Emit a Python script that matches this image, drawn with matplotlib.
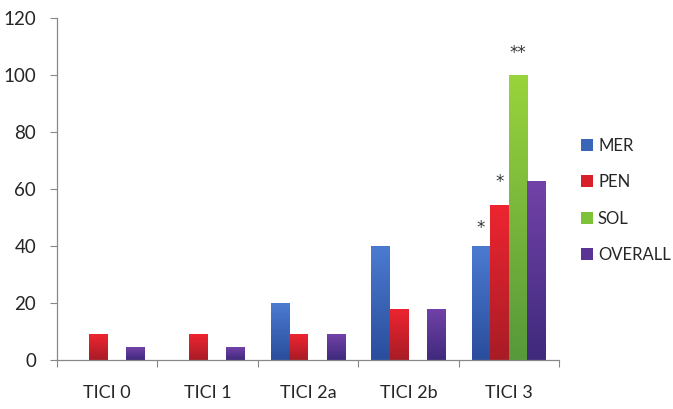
import numpy as np
import matplotlib.pyplot as plt
from matplotlib.colors import LinearSegmentedColormap
from matplotlib.patches import Patch

categories = ["TICI 0", "TICI 1", "TICI 2a", "TICI 2b", "TICI 3"]
series = ["MER", "PEN", "SOL", "OVERALL"]
mer = [0, 0, 20, 40, 40]
pen = [9, 9, 9, 18, 54.5]
sol = [0, 0, 0, 0, 100]
overall = [4.5, 4.5, 9, 18, 63]
values = [mer, pen, sol, overall]

# significance marks above TICI 3 bars (series index, height, text)
marks = [(0, 46.5, "*"), (1, 62.5, "*"), (2, 108, "**")]

# gradient colours, top -> bottom
grads = [("#4b7bd0", "#2a4d9c"),
         ("#ee2530", "#a81c26"),
         ("#99d43c", "#57983a"),
         ("#7242a8", "#3f2a7c")]
solid = ["#3a66b8", "#d8202a", "#7ec23a", "#5a3494"]

plt.rcParams['font.family'] = ['Lato', 'DejaVu Sans']

fig = plt.figure(figsize=(6.73, 4.09), dpi=100)
ax = fig.add_axes([57 / 673, 49 / 409, (559 - 57) / 673, (360 - 18.4) / 409])

x = np.arange(len(categories))
w = 0.185
grad = np.linspace(1, 0, 256).reshape(-1, 1)

for i, (vals, (ctop, cbot)) in enumerate(zip(values, grads)):
    cmap = LinearSegmentedColormap.from_list("g%d" % i, [cbot, ctop])
    bars = ax.bar(x + (i - 1.5) * w, vals, width=w, color="none", edgecolor="none")
    for b in bars:
        h = b.get_height()
        if h <= 0:
            continue
        x0 = b.get_x()
        im = ax.imshow(grad, cmap=cmap, aspect="auto",
                       extent=[x0, x0 + w, 0, h], zorder=2, interpolation="bicubic")
        im.set_clip_path(b)

for i, h, t in marks:
    ax.text(x[4] + (i - 1.5) * w, h, t, ha="center", va="center",
            fontsize=12, color="#333333", family="DejaVu Sans")

ax.set_xlim(-0.5, len(categories) - 0.5)
ax.set_ylim(0, 120)
ax.set_yticks(range(0, 121, 20))

ax.set_xticks(np.arange(-0.5, len(categories), 1.0))
ax.set_xticklabels([])
ax.set_xticks(x, minor=True)
ax.set_xticklabels(categories, minor=True)
ax.tick_params(axis="x", which="major", length=5, color="#888888", direction="out")
ax.tick_params(axis="x", which="minor", length=0, pad=18, labelsize=13, labelcolor="#262626")
ax.tick_params(axis="y", length=5, color="#888888", labelsize=13.5, labelcolor="#262626", pad=10)

for s in ["top", "right"]:
    ax.spines[s].set_visible(False)
for s in ["left", "bottom"]:
    ax.spines[s].set_color("#888888")
    ax.spines[s].set_linewidth(0.9)

handles = [Patch(facecolor=c, edgecolor="none") for c in solid]
fig.legend(handles, series, loc="center left", bbox_to_anchor=(566 / 673, 1 - 200.5 / 409),
           frameon=False, fontsize=12, handlelength=0.72, handleheight=0.72,
           handletextpad=0.3, labelspacing=1.23, labelcolor="#262626")

fig.savefig("out.png", dpi=100)
